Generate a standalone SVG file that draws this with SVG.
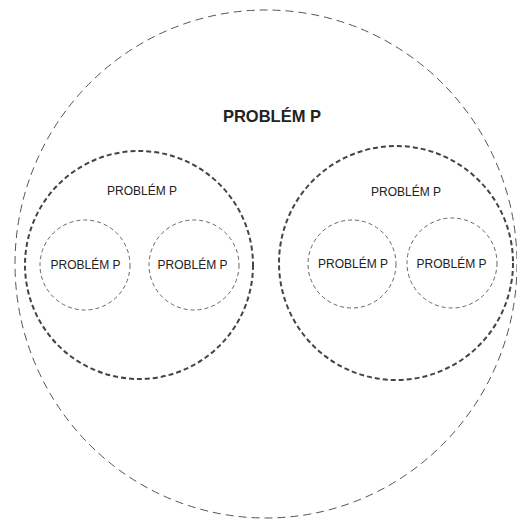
<svg xmlns="http://www.w3.org/2000/svg" width="517" height="520" viewBox="0 0 517 520">
<style>
.outer{fill:none;stroke:#555;stroke-width:1;stroke-dasharray:8 5}
.mid{fill:none;stroke:#444;stroke-width:2;stroke-dasharray:5 3}
.small{fill:none;stroke:#666;stroke-width:1;stroke-dasharray:4 3}
text{font-family:"Liberation Sans",Arial,sans-serif;fill:#222;text-anchor:middle}
.big{font-size:16.5px;font-weight:bold}
.lbl{font-size:12px}
</style>
<rect width="517" height="520" fill="#fff"/>
<g id="outer">
<ellipse class="outer" cx="266" cy="264" rx="251" ry="254"/>
<text class="big" x="272" y="122">PROBLÉM P</text>
</g>
<g id="left">
<circle class="mid" cx="139" cy="265" r="114"/>
<text class="lbl" x="142" y="195">PROBLÉM P</text>
</g>
<g id="right">
<circle class="mid" cx="396" cy="263" r="117"/>
<text class="lbl" x="406" y="196">PROBLÉM P</text>
</g>
<g id="left-a">
<circle class="small" cx="85" cy="265" r="45"/>
<text class="lbl" x="85.5" y="269">PROBLÉM P</text>
</g>
<g id="left-b">
<circle class="small" cx="194" cy="265" r="45"/>
<text class="lbl" x="192.5" y="269">PROBLÉM P</text>
</g>
<g id="right-a">
<circle class="small" cx="352" cy="264" r="44"/>
<text class="lbl" x="353" y="268">PROBLÉM P</text>
</g>
<g id="right-b">
<circle class="small" cx="452" cy="263" r="45"/>
<text class="lbl" x="451.5" y="268">PROBLÉM P</text>
</g>
<g id="connectors"/>
</svg>
